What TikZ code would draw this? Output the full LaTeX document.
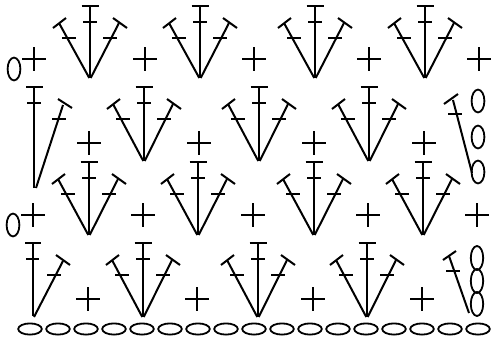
\documentclass[tikz,border=0pt]{standalone}
\tikzset{
  stitch/.style={line width=2pt,black,line cap=butt},
  loopst/.style={line width=1.8pt,black}
}
% fan: #1 = apex x, #2 = top bar y, #3 = apex y
\newcommand{\fanmark}[3]{%
  \begin{scope}[shift={(#1,#2)}]
    \draw[stitch] (0,#3-#2) -- (0,0);
    \draw[stitch] (-8.5,0) -- (8.5,0);
    \draw[stitch] (-7,16) -- (7,16);
    \draw[stitch] (-0.7,#3-#2) -- (-31,17);
    \draw[stitch] (-37,22) -- (-24,12);
    \draw[stitch] (-28,32) -- (-14,32);
    \draw[stitch] (0.7,#3-#2) -- (29,17);
    \draw[stitch] (23,12) -- (37,22);
    \draw[stitch] (13,32) -- (27,32);
  \end{scope}}
\newcommand{\plusmark}[2]{%
  \draw[stitch] (#1-12,#2) -- (#1+12,#2);
  \draw[stitch] (#1,#2-12) -- (#1,#2+12);}
\newcommand{\vloop}[2]{\draw[loopst] (#1,#2) ellipse [x radius=6.4,y radius=11.4];}
\begin{document}
\begin{tikzpicture}[x=1pt,y=-1pt]
\useasboundingbox (0,0) rectangle (491,341);
% row 1
\foreach \x in {90,200,315,425} {\fanmark{\x}{6}{78}}
\foreach \x in {34,145,254,369,479} {\plusmark{\x}{59}}
\vloop{14}{69}
% row 2
\foreach \x in {144,259,369} {\fanmark{\x}{87}{161}}
\foreach \x in {89,199,314,424} {\plusmark{\x}{143}}
\draw[stitch] (34,188) -- (34,87);
\draw[stitch] (26,87) -- (43,87);
\draw[stitch] (27,103) -- (41,103);
\draw[stitch] (36,188) -- (63,105);
\draw[stitch] (58,99) -- (72,108);
\draw[stitch] (52,119) -- (66,119);
\vloop{478}{101}
\vloop{478}{137}
\vloop{478}{172}
\draw[stitch] (472,173) -- (453,100);
\draw[stitch] (444,104) -- (458,94);
\draw[stitch] (448,114) -- (462,114);
% row 3
\foreach \x in {89,198,314,423} {\fanmark{\x}{162}{235}}
\foreach \x in {33,143,253,368,477} {\plusmark{\x}{215}}
\vloop{13}{225}
% row 4
\foreach \x in {143,258,367} {\fanmark{\x}{243}{317}}
\foreach \x in {88,197,313,422} {\plusmark{\x}{299}}
\draw[stitch] (33,316) -- (33,243);
\draw[stitch] (25,243) -- (41,243);
\draw[stitch] (26,259) -- (39,259);
\draw[stitch] (34,317) -- (63,261);
\draw[stitch] (56,255) -- (70,265);
\draw[stitch] (47,275) -- (61,275);
\draw[loopst] (477,258) ellipse [x radius=6.2,y radius=12];
\draw[loopst] (477,281) ellipse [x radius=6.2,y radius=12];
\draw[loopst] (477,304) ellipse [x radius=6.2,y radius=12];
\draw[stitch] (469,313) -- (449,256);
\draw[stitch] (443,260) -- (456,251);
\draw[stitch] (446,271) -- (460,271);
% foundation chain
\foreach \i in {0,...,16} {\draw[loopst] (30+28*\i,329) ellipse [x radius=11.8,y radius=5.6];}
\end{tikzpicture}
\end{document}
